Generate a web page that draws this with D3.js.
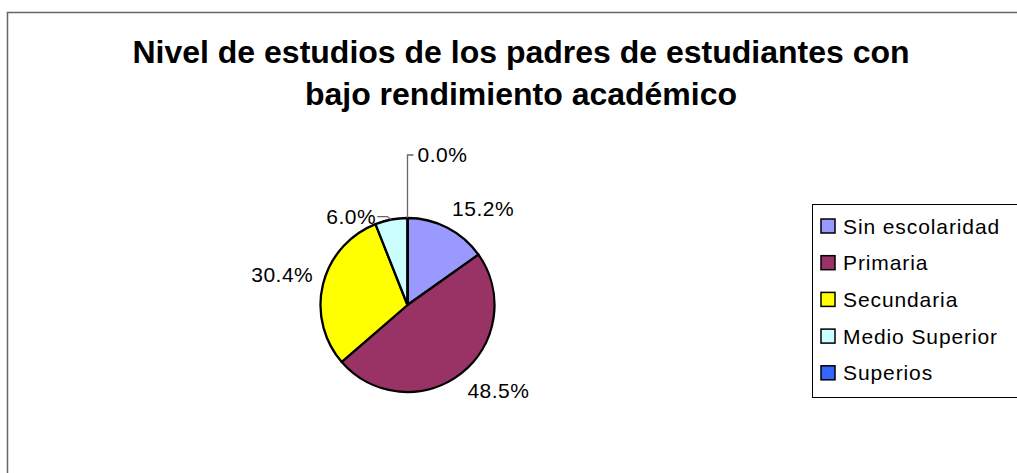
<!DOCTYPE html>
<html>
<head>
<meta charset="utf-8">
<script src="https://cdn.jsdelivr.net/npm/d3@7"></script>
<style>
  body { margin: 0; background: #fff; }
  text { font-family: "Liberation Sans", Arial, sans-serif; }
</style>
</head>
<body>
<div id="chart"></div>
<script>
// data
const categories = ["Sin escolaridad", "Primaria", "Secundaria", "Medio Superior", "Superios"];
const values = [15.2, 48.5, 30.4, 6.0, 0.0];
const colors = ["#9999FF", "#993366", "#FFFF00", "#CCFFFF", "#3366FF"];
const titleLines = ["Nivel de estudios de los padres de estudiantes con", "bajo rendimiento académico"];

const width = 1017, height = 473;
const cx = 407.5, cy = 305, r = 87;

//set up SVG object
let svg = d3.select("#chart")
            .append("svg")
            .attr("width", width)
            .attr("height", height);

svg.append("rect").attr("width", width).attr("height", height).attr("fill", "#fff");

// chart frame (right and bottom sides fall outside the picture)
svg.append("rect")
   .attr("x", 7.5).attr("y", 12.5)
   .attr("width", 1100).attr("height", 520)
   .attr("fill", "none")
   .attr("stroke", "#666")
   .attr("stroke-width", 1.5);

//title
svg.append("g").selectAll("text")
   .data(titleLines)
   .enter()
   .append("text")
   .attr("x", 521)
   .attr("y", function(d, i) { return 63 + i * 42; })
   .attr("text-anchor", "middle")
   .style("font-size", "32px")
   .style("font-weight", "bold")
   .text(function(d) { return d; });

//pie
let pie = d3.pie().sort(null).value(function(d) { return d; });
let arcs = pie(values);
let arc = d3.arc().innerRadius(0).outerRadius(r);

let g = svg.append("g").attr("transform", `translate(${cx},${cy})`);

g.selectAll("path")
 .data(arcs)
 .enter()
 .append("path")
 .attr("d", arc)
 .attr("fill", function(d, i) { return colors[i]; })
 .attr("stroke", "#000")
 .attr("stroke-width", 2.3)
 .attr("stroke-linejoin", "round");

// labels: nearest corner of the text box sits just outside the rim on the mid angle,
// small slices get an elbow leader line instead (as excel does)
const labelGap = 10;
const leaderRise = { "Medio Superior": 3, "Superios": 63 };
const fmt = function(v) { return v.toFixed(1) + "%"; };
const clamp1 = function(v) { return Math.max(-1, Math.min(1, v)); };

let labels = svg.append("g");
arcs.forEach(function(d, i) {
  let a = (d.startAngle + d.endAngle) / 2;
  let sx = Math.sin(a), sy = -Math.cos(a);
  let name = categories[i];
  if (leaderRise[name] !== undefined) {
    let ex = cx + r * sx, ey = cy + r * sy;
    let ky = ey - leaderRise[name];
    let pts, tx, anchor;
    if (sx < -0.01) {  // left side: short diagonal then horizontal to the left
      let kx = ex - 4;
      pts = [[ex, ey], [kx, ky], [kx - 10, ky]];
      tx = kx - 11; anchor = "end";
    } else {           // top: straight up then a tick to the right
      pts = [[ex, ey], [ex, ky], [ex + 6, ky]];
      tx = ex + 10; anchor = "start";
    }
    labels.append("path")
          .attr("d", d3.line()(pts))
          .attr("fill", "none")
          .attr("stroke", "#666")
          .attr("stroke-width", 1.3);
    labels.append("text")
          .attr("x", tx).attr("y", ky + 7)
          .attr("text-anchor", anchor)
          .style("font-size", "21px")
          .style("letter-spacing", "0.5px")
          .text(fmt(values[i]));
  } else {
    let px = cx + (r + labelGap) * sx, py = cy + (r + labelGap) * sy;
    let t = labels.append("text")
                  .style("font-size", "21px")
                  .style("letter-spacing", "0.5px")
                  .attr("text-anchor", "middle")
                  .text(fmt(values[i]));
    let w = t.node().getComputedTextLength(), h = 20;
    t.attr("x", px + clamp1(sx * 3) * w / 2)
     .attr("y", py + clamp1(sy * 3) * h / 2 + 7);
  }
});

//legend
let legend = svg.append("g");
legend.append("rect")
      .attr("x", 812.5).attr("y", 204.5)
      .attr("width", 240).attr("height", 193)
      .attr("fill", "#fff")
      .attr("stroke", "#000")
      .attr("stroke-width", 1);

let item = legend.selectAll("g.item")
                 .data(categories)
                 .enter()
                 .append("g")
                 .attr("class", "item")
                 .attr("transform", function(d, i) { return `translate(0,${226 + i * 36.7})`; });
item.append("rect")
    .attr("x", 821).attr("y", -7)
    .attr("width", 14).attr("height", 14)
    .attr("fill", function(d, i) { return colors[i]; })
    .attr("stroke", "#000")
    .attr("stroke-width", 1.5);
item.append("text")
    .attr("x", 843).attr("y", 7.5)
    .style("font-size", "21px")
    .style("letter-spacing", "0.9px")
    .text(function(d) { return d; });
</script>
</body>
</html>
